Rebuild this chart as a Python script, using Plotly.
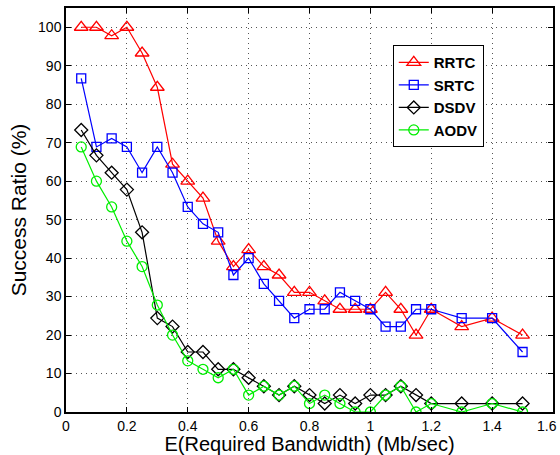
import plotly.graph_objects as go

x_vals = [0.05, 0.1, 0.15, 0.2, 0.25, 0.3, 0.35, 0.4, 0.45, 0.5, 0.55, 0.6, 0.65, 0.7,
          0.75, 0.8, 0.85, 0.9, 0.95, 1.0, 1.05, 1.1, 1.15, 1.2, 1.3, 1.4, 1.5]

rrtc = [100, 100, 97.8, 100, 93.3, 84.4, 64.4, 60, 55.6, 44.4, 37.8, 42.2, 37.8, 35.6,
        31.1, 31.1, 28.9, 26.7, 26.7, 26.7, 31.1, 26.7, 20, 26.7, 22.2, 24.4, 20]
srtc = [86.7, 68.9, 71.1, 68.9, 62.2, 68.9, 62.2, 53.3, 48.9, 46.7, 35.6, 40, 33.3, 28.9,
        24.4, 26.7, 26.7, 31.1, 28.9, 26.7, 22.2, 22.2, 26.7, 26.7, 24.4, 24.4, 15.6]
dsdv = [73.3, 66.7, 62.2, 57.8, 46.7, 24.4, 22.2, 15.6, 15.6, 11.1, 11.1, 8.9, 6.7, 4.4,
        6.7, 4.4, 2.2, 4.4, 2.2, 4.4, 4.4, 6.7, 4.4, 2.2, 2.2, 2.2, 2.2]
aodv = [68.9, 60, 53.3, 44.4, 37.8, 27.8, 20, 13.3, 11.1, 8.9, 11.1, 4.4, 6.7, 4.4,
        6.7, 2.2, 4.4, 2.2, 0, 0, 4.4, 6.7, 0, 2.2, 0, 2.2, 0]

x_ticks = [0, 0.2, 0.4, 0.6, 0.8, 1.0, 1.2, 1.4, 1.6]
x_tick_labels = ["0", "0.2", "0.4", "0.6", "0.8", "1", "1.2", "1.4", "1.6"]
y_ticks = [0, 10, 20, 30, 40, 50, 60, 70, 80, 90, 100]

series = [
    ("RRTC", rrtc, "#ff0000", "triangle-up-open", 12),
    ("SRTC", srtc, "#0000ff", "square-open", 9),
    ("DSDV", dsdv, "#000000", "diamond-open", 10),
    ("AODV", aodv, "#00ee00", "circle-open", 10),
]

fig = go.Figure()
for name, ys, col, sym, sz in series:
    fig.add_trace(go.Scatter(
        x=x_vals, y=ys, name=name, mode="lines+markers",
        line=dict(color=col, width=1.2),
        marker=dict(symbol=sym, size=sz, color=col, line=dict(width=1.3, color=col)),
    ))

axis_common = dict(
    showline=True, linecolor="black", linewidth=1.5, mirror="allticks",
    ticks="inside", ticklen=5, tickcolor="black",
    showgrid=True, gridcolor="#555", griddash="1px,4px", gridwidth=1,
    zeroline=False, tickfont=dict(size=14, color="black"), automargin=False,
)

fig.update_layout(
    width=560, height=455,
    margin=dict(l=66, r=7, t=8, b=43),
    paper_bgcolor="white", plot_bgcolor="white",
    font=dict(family="Liberation Sans, Arial, sans-serif", color="black"),
    xaxis=dict(range=[0, 1.6], tickvals=x_ticks, ticktext=x_tick_labels,
               title=dict(text="E(Required Bandwidth) (Mb/sec)", font=dict(size=20), standoff=2),
               **axis_common),
    yaxis=dict(range=[0, 105], tickvals=y_ticks,
               title=dict(text="Success Ratio (%)", font=dict(size=21), standoff=6),
               **axis_common),
    legend=dict(x=0.671, y=0.908, xanchor="left", yanchor="top",
                bordercolor="black", borderwidth=1, bgcolor="white",
                font=dict(size=15, color="black", weight="bold"),
                tracegroupgap=0),
    showlegend=True,
)

# last x tick label sits at the page edge; keep it fully inside the page
fig.add_annotation(x=1.6, y=0, xref="x", yref="y", text=x_tick_labels[-1],
                   showarrow=False, yanchor="top", xanchor="right", xshift=6, yshift=-4,
                   font=dict(size=14, color="black"))

fig.write_html("out.html", config={"displayModeBar": False},
               post_script="document.body.style.margin='0';document.body.style.overflow='hidden';")
